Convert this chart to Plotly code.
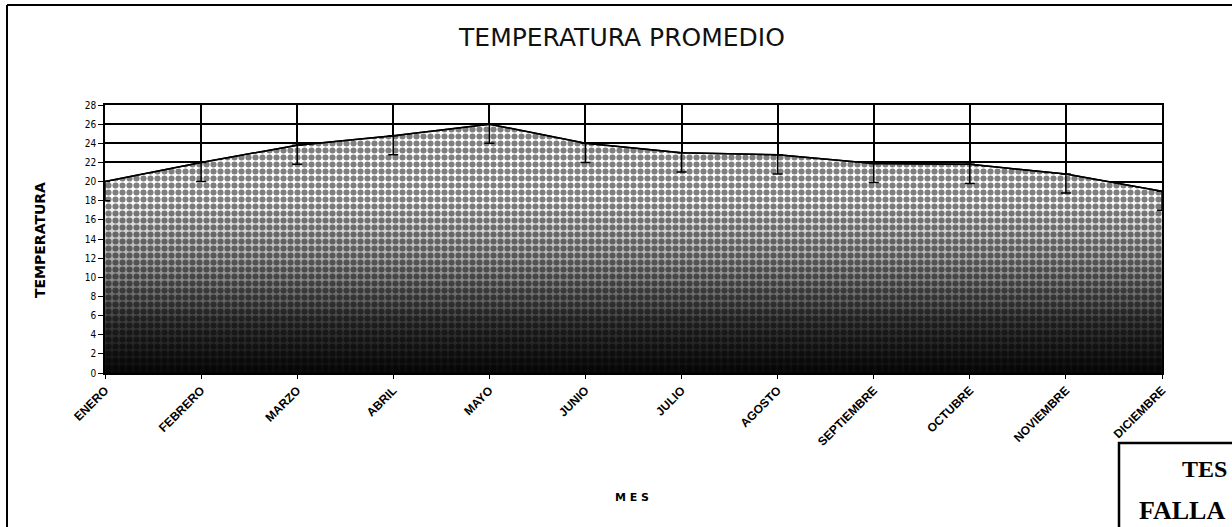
import plotly.graph_objects as go

months = ["ENERO", "FEBRERO", "MARZO", "ABRIL", "MAYO", "JUNIO", "JULIO",
          "AGOSTO", "SEPTIEMBRE", "OCTUBRE", "NOVIEMBRE", "DICIEMBRE"]
temps = [20, 22, 23.8, 24.8, 26, 24, 23, 22.8, 21.9, 21.8, 20.8, 19]
err_minus = [2, 2, 2, 2, 2, 2, 2, 2, 2, 2, 2, 2]
y_ticks = list(range(0, 29, 2))

W, H = 1232, 527
L, R, T, B = 105, 70, 105, 154
pw, ph = W - L - R, H - T - B


def px(x):
    return (x - L) / pw


def py(y):
    return (H - B - y) / ph


fig = go.Figure()

# gradient underlay
fig.add_trace(go.Scatter(
    x=months, y=temps, mode="lines", fill="tozeroy",
    line=dict(color="black", width=1.5),
    fillgradient=dict(type="vertical",
                      colorscale=[[0, "#0a0a0a"], [0.2, "#3a3a3a"], [0.45, "#a8a8a8"],
                                  [0.7, "#ffffff"], [1, "#ffffff"]]),
    hoverinfo="skip", showlegend=False,
))
# dot pattern overlay
fig.add_trace(go.Scatter(
    x=months, y=temps, mode="lines", fill="tozeroy",
    line=dict(color="black", width=1.5),
    fillcolor="rgba(0,0,0,0)",
    fillpattern=dict(shape=".", fgcolor="black", bgcolor="rgba(0,0,0,0)",
                     size=7, solidity=0.6),
    error_y=dict(type="data", symmetric=False,
                 array=[0] * len(temps), arrayminus=err_minus,
                 color="black", thickness=1.5, width=5),
    showlegend=False,
))

fig.update_layout(
    width=W, height=H,
    margin=dict(l=L, r=R, t=T, b=B),
    paper_bgcolor="white", plot_bgcolor="white",
    title=dict(text="TEMPERATURA PROMEDIO", x=px(622), xref="paper", xanchor="center",
               y=1 - 37 / H, yanchor="middle",
               font=dict(family="DejaVu Sans", size=25, color="#111")),
    xaxis=dict(
        type="category", range=[0, len(months) - 1],
        showgrid=True, gridcolor="black", gridwidth=1.5,
        showline=True, linecolor="black", linewidth=1.5, mirror=True,
        ticks="outside", ticklen=4, tickcolor="black",
        tickangle=-45,
        tickfont=dict(family="Liberation Sans, Arial", size=12, color="black", weight="bold"),
    ),
    yaxis=dict(
        range=[0, 28], tickvals=y_ticks,
        showgrid=True, gridcolor="black", gridwidth=1.5,
        showline=True, linecolor="black", linewidth=1.5, mirror=True,
        ticks="outside", ticklen=5, tickcolor="black",
        tickfont=dict(family="DejaVu Sans Condensed, DejaVu Sans", size=10, color="black"),
        zeroline=False,
    ),
    shapes=[
        dict(type="line", xref="paper", yref="paper", x0=px(7), x1=px(7),
             y0=py(5), y1=py(H + 5), line=dict(color="black", width=2)),
        dict(type="line", xref="paper", yref="paper", x0=px(7), x1=px(W + 5),
             y0=py(5), y1=py(5), line=dict(color="black", width=2)),
        dict(type="rect", xref="paper", yref="paper", x0=px(1119), x1=px(W + 60),
             y0=py(443), y1=py(H + 20), line=dict(color="black", width=2.5),
             fillcolor="white"),
    ],
    annotations=[
        dict(text="TEMPERATURA", xref="paper", yref="paper", x=px(40), y=py(240),
             xanchor="center", yanchor="middle", showarrow=False, textangle=-90,
             font=dict(family="DejaVu Sans", size=14, color="black", weight="bold")),
        dict(text="M E S", xref="paper", yref="paper", x=px(632), y=py(497),
             xanchor="center", yanchor="middle", showarrow=False,
             font=dict(family="DejaVu Sans", size=11, color="black", weight="bold")),
        dict(text="TES", xref="paper", yref="paper", x=px(1180), y=py(469),
             xanchor="left", yanchor="middle", showarrow=False,
             font=dict(family="Liberation Serif", size=24, color="black", weight="bold")),
        dict(text="FALLA", xref="paper", yref="paper", x=px(1137), y=py(510),
             xanchor="left", yanchor="middle", showarrow=False,
             font=dict(family="Liberation Serif", size=26, color="black", weight="bold")),
    ],
)

fig.write_html("out.html", config={"displayModeBar": False},
               post_script="document.body.style.margin='0';document.body.style.overflow='hidden';")
